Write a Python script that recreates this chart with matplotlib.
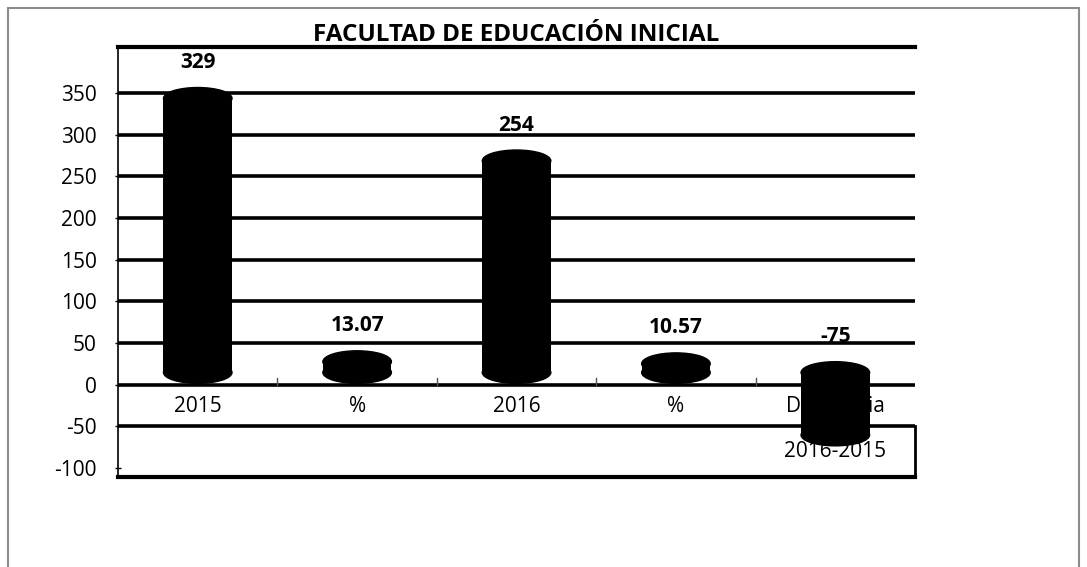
import numpy as np
import matplotlib
matplotlib.use("Agg")
import matplotlib.pyplot as plt
from matplotlib.patches import Ellipse, Rectangle
from matplotlib.transforms import offset_copy

plt.rcParams['font.family'] = ['Open Sans', 'DejaVu Sans']
plt.rcParams['axes.unicode_minus'] = False

categories = ["2015", "%", "2016", "%", "Diferencia\n2016-2015"]
values = [329, 13.07, 254, 10.57, -75]
value_labels = ["329", "13.07", "254", "10.57", "-75"]
yticks = [-100, -50, 0, 50, 100, 150, 200, 250, 300, 350]

fig = plt.figure(figsize=(10.87, 5.67), dpi=100)
ax = fig.add_axes([0.1086, 0.1587, 0.7332, 0.7584])

# outer frame of the chart object
fig.patches.append(Rectangle((8 / 1087, -0.02), 1071 / 1087, 1.02 - 8 / 567,
                             transform=fig.transFigure, fill=False,
                             edgecolor="#8c8c8c", lw=1.5))

ax.set_xlim(-0.5, len(categories) - 0.5)
ax.set_ylim(-111, 405)

# gridlines on the back wall
for t in yticks[1:]:
    ax.axhline(t, color="black", lw=2.6, zorder=1)

# small ticks between categories on the zero line
for b in np.arange(0.5, len(categories) - 0.5, 1):
    ax.plot([b, b], [0, 8], color="#555555", lw=1, zorder=1)

# cylinders, lifted a little as in the 3D view
lift = offset_copy(ax.transData, fig=fig, y=12, units='dots')
x = np.arange(len(categories))
w = 0.43
cap = 13  # half height of the ellipse cap in data units
ax.bar(x, values, width=w, color="black", zorder=3, transform=lift)
for xi, v in zip(x, values):
    for yy in (0, v):
        ax.add_patch(Ellipse((xi, yy), w, 2 * cap, color="black",
                             zorder=3, transform=lift))

for xi, v, lab in zip(x, values, value_labels):
    top = max(v, 0) + cap
    ax.annotate(lab, (xi, top), xytext=(0, 19), textcoords="offset points",
                ha="center", va="bottom", fontsize=15, fontweight="bold",
                annotation_clip=False)

for xi, c in zip(x, categories):
    ax.text(xi, -14, c, ha="center", va="top", fontsize=15,
            linespacing=2.5, zorder=2)

ax.set_xticks([])
ax.set_yticks(yticks)
ax.tick_params(axis="y", labelsize=15, length=5, width=1, pad=13,
               direction="inout")

ax.spines['top'].set_linewidth(3)
ax.spines['bottom'].set_linewidth(3)
ax.spines['left'].set_linewidth(1.2)
ax.spines['right'].set_linewidth(2)
ax.spines['right'].set_bounds(-111, -50)

ax.set_title("FACULTAD DE EDUCACIÓN INICIAL", fontsize=17.5,
             fontweight="bold", pad=1)

fig.savefig("out.png", dpi=100)
